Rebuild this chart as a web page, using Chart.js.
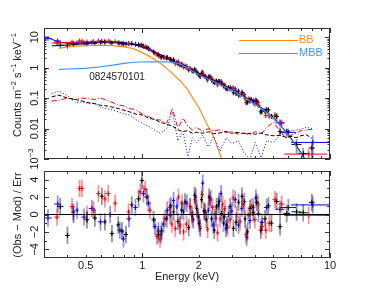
<!DOCTYPE html>
<html lang="en">
<head>
  <meta charset="UTF-8">
  <title>Spectrum 0824570101</title>
  <script src="https://cdn.jsdelivr.net/npm/chart.js"></script>
  <style type="text/css">
    body, html {
      margin: 0;
      padding: 0;
      background-color: #fff;
      overflow: hidden;
    }
    .panel {
      position: absolute;
      left: 0;
      width: 374px;
    }
    #top-panel { top: 0; height: 170px; }
    #res-panel { top: 160px; height: 129px; }
  </style>
</head>
<body>

  <div class="panel" id="top-panel"><canvas id="spec"></canvas></div>
  <div class="panel" id="res-panel"><canvas id="resid"></canvas></div>

  <script>
    // ---- data ----
    // instrument 1 (black): bin centre, half width, counts, error, residual
    const blackE = [0.366,0.40,0.431,0.508,0.56,0.61,0.633,0.69,0.745,0.78,0.82,0.88,0.956,0.996,1.06,1.15,1.22,1.27,1.35,1.42,1.47,1.55,1.62,1.69,1.77,1.84,1.90,1.95,2.01,2.07,2.13,2.20,2.27,2.34,2.42,2.49,2.57,2.65,2.73,2.82,2.94,3.06,3.16,3.26,3.40,3.53,3.64,3.75,3.90,4.07,4.28,4.51,4.70,4.88,5.20,5.42,5.88,6.64,7.20,8.00];
    const blackDE = [0.015,0.012,0.012,0.015,0.015,0.015,0.015,0.018,0.018,0.02,0.02,0.02,0.025,0.025,0.025,0.03,0.025,0.025,0.03,0.03,0.03,0.03,0.03,0.03,0.035,0.035,0.035,0.035,0.04,0.04,0.04,0.04,0.04,0.045,0.045,0.045,0.05,0.05,0.05,0.05,0.06,0.06,0.06,0.06,0.07,0.07,0.07,0.07,0.08,0.1,0.1,0.12,0.12,0.12,0.15,0.15,0.25,0.4,0.4,0.3];
    const blackCts = [5.45,5.1,5.7,6.0,6.3,7.2,6.7,6.45,6.5,6.2,5.95,6.2,5.6,5.5,4.6,3.25,2.55,2.25,2.05,1.87,1.67,1.34,1.23,1.13,0.84,0.82,0.87,0.69,0.56,0.65,0.545,0.46,0.51,0.39,0.32,0.36,0.35,0.287,0.252,0.21,0.216,0.15,0.142,0.17,0.156,0.1,0.074,0.092,0.075,0.078,0.035,0.038,0.041,0.025,0.025,0.008,0.0078,0.003,0.0015,0.0023];
    const blackErr = [0.33,0.31,0.34,0.36,0.38,0.43,0.4,0.39,0.39,0.37,0.36,0.37,0.34,0.33,0.32,0.23,0.18,0.16,0.14,0.13,0.12,0.094,0.086,0.079,0.059,0.057,0.061,0.048,0.05,0.058,0.049,0.041,0.046,0.035,0.029,0.032,0.031,0.026,0.023,0.019,0.019,0.018,0.017,0.02,0.019,0.012,0.009,0.011,0.009,0.014,0.0063,0.0068,0.0074,0.0045,0.0075,0.0024,0.0023,0.0015,0.0008,0.0015];
    const blackRes = [0.9,-2.4,0.0,-0.6,-0.4,2.1,-0.85,-2.2,-1.2,-1.9,-2.3,1.1,1.8,3.9,2.0,-0.6,-2.3,-1.9,-0.5,1.0,0.3,-0.8,0.5,1.45,-1.5,0.0,2.2,0.7,-1.0,1.7,0.4,-0.6,2.0,-0.5,-1.8,0.9,1.5,0.1,-0.3,-1.2,0.9,-1.6,-0.9,1.4,2.1,-0.5,-2.0,0.7,0.2,1.4,-1.8,-0.5,1.0,-1.0,1.5,-1.4,0.1,0.3,0.2,1.4];

    // instrument 2 (red)
    const redE = [0.352,0.423,0.464,0.478,0.508,0.551,0.585,0.633,0.66,0.718,0.846,0.976,1.037,1.10,1.197,1.245,1.32,1.40,1.44,1.50,1.56,1.59,1.63,1.66,1.72,1.80,1.85,1.91,1.97,2.03,2.09,2.16,2.23,2.30,2.37,2.44,2.52,2.60,2.68,2.76,2.85,2.94,3.05,3.19,3.32,3.46,3.57,3.67,3.82,3.98,4.15,4.33,4.55,4.75,5.09,5.53,7.70];
    const redDE = [0.012,0.012,0.012,0.012,0.015,0.015,0.015,0.015,0.018,0.018,0.02,0.025,0.025,0.03,0.025,0.025,0.03,0.03,0.03,0.03,0.03,0.03,0.03,0.03,0.035,0.035,0.035,0.035,0.04,0.04,0.04,0.04,0.04,0.045,0.045,0.045,0.05,0.05,0.05,0.05,0.06,0.06,0.06,0.07,0.07,0.07,0.07,0.07,0.08,0.1,0.1,0.12,0.12,0.12,0.15,0.2,2.0];
    const redCts = [6.45,6.9,7.4,7.45,7.0,7.1,7.5,7.35,7.4,7.1,6.25,5.4,4.9,3.9,2.7,2.35,2.15,1.9,1.66,1.35,1.54,1.25,1.31,1.04,0.97,0.94,0.79,0.79,0.67,0.53,0.68,0.52,0.39,0.48,0.42,0.36,0.27,0.3,0.305,0.27,0.196,0.195,0.22,0.155,0.122,0.13,0.072,0.094,0.089,0.063,0.071,0.036,0.027,0.026,0.027,0.015,0.00145];
    const redErr = [0.39,0.41,0.44,0.45,0.42,0.43,0.45,0.44,0.44,0.43,0.38,0.32,0.34,0.27,0.19,0.16,0.15,0.13,0.12,0.095,0.11,0.088,0.092,0.073,0.068,0.066,0.055,0.055,0.047,0.048,0.061,0.047,0.035,0.043,0.038,0.032,0.024,0.027,0.027,0.024,0.018,0.018,0.026,0.019,0.015,0.016,0.0086,0.011,0.011,0.0076,0.013,0.0065,0.0049,0.0047,0.008,0.0045,0.0007];
    const redRes = [-0.3,0.9,3.0,3.0,0.0,0.5,2.4,1.8,2.4,1.3,0.3,2.6,2.9,0.5,-2.5,-2.8,-0.5,0.8,-1.1,-1.6,2.0,-1.2,1.3,-2.0,-1.1,0.9,-0.4,1.7,0.2,-1.4,2.3,0.3,-1.7,1.6,0.8,0.1,-2.1,-0.5,1.2,0.7,-1.5,-0.6,1.9,0.0,-0.8,1.1,-2.3,-0.1,0.9,-0.6,1.2,-1.4,-1.8,-1.0,1.7,1.2,-0.1];

    // instrument 3 (blue)
    const blueE = [0.315,0.355,0.43,0.45,0.49,0.54,0.60,0.675,0.76,0.795,0.85,0.92,1.016,1.08,1.17,1.22,1.26,1.30,1.36,1.41,1.47,1.53,1.59,1.66,1.73,1.80,1.87,1.93,1.99,2.04,2.10,2.17,2.25,2.32,2.39,2.47,2.55,2.63,2.71,2.79,2.88,3.00,3.13,3.26,3.39,3.50,3.60,3.75,3.90,4.03,4.16,4.35,4.60,5.42,6.00,8.10];
    const blueDE = [0.015,0.015,0.01,0.01,0.015,0.02,0.02,0.02,0.02,0.02,0.025,0.025,0.03,0.03,0.025,0.025,0.025,0.025,0.03,0.03,0.03,0.03,0.03,0.03,0.035,0.035,0.035,0.035,0.04,0.04,0.04,0.04,0.045,0.045,0.045,0.045,0.05,0.05,0.05,0.05,0.06,0.06,0.07,0.07,0.07,0.07,0.07,0.08,0.08,0.1,0.1,0.12,0.15,0.3,0.6,1.9];
    const blueCts = [9.2,7.5,6.25,6.4,6.45,6.85,6.7,6.9,6.35,6.0,6.1,5.85,5.0,4.25,3.0,2.65,2.18,2.2,2.17,1.84,1.83,1.52,1.21,1.12,1.07,0.93,0.76,0.82,0.62,0.51,0.71,0.51,0.47,0.49,0.35,0.336,0.35,0.354,0.25,0.206,0.22,0.2,0.2,0.125,0.135,0.13,0.07,0.078,0.082,0.086,0.058,0.04,0.042,0.0155,0.0075,0.0035];
    const blueErr = [0.55,0.45,0.38,0.38,0.39,0.41,0.4,0.41,0.38,0.36,0.37,0.35,0.35,0.3,0.21,0.19,0.15,0.15,0.15,0.13,0.13,0.11,0.085,0.08,0.075,0.065,0.053,0.057,0.043,0.046,0.064,0.046,0.042,0.044,0.032,0.03,0.032,0.032,0.023,0.019,0.02,0.018,0.024,0.015,0.016,0.016,0.0084,0.0094,0.0098,0.015,0.0104,0.0072,0.0076,0.0047,0.0025,0.0025];
    const blueRes = [-0.4,1.2,0.3,0.5,-0.3,0.7,-0.85,0.0,-1.8,-2.8,-0.5,0.8,2.4,1.3,-1.4,-1.9,-2.3,-1.1,0.5,-0.1,1.6,0.9,-1.3,0.3,1.3,0.9,-0.6,2.0,-0.3,-1.6,3.6,0.2,0.5,1.8,-1.2,-0.4,1.1,2.4,-1.0,-1.6,0.0,0.4,1.7,-1.2,0.7,1.5,-2.6,-0.7,0.8,1.9,0.1,-0.9,0.8,0.6,0.8,1.1];

    // folded total model per instrument
    const modelE = [0.3,0.33,0.36,0.4,0.45,0.5,0.6,0.7,0.8,0.9,1.0,1.1,1.2,1.3,1.5,1.7,2.0,2.3,2.6,3.0,3.5,4.0,4.5,5.0,5.5,6.0,6.5,7.0,7.5,8.0];
    const blackModel = [null,5.2,5.3,5.5,5.8,6.1,6.8,6.9,6.5,5.8,4.8,3.8,3.0,2.35,1.5,1.0,0.62,0.42,0.3,0.19,0.11,0.065,0.04,0.022,0.012,0.0062,0.0032,0.0016,0.0008,0.0004];
    const redModel = [null,6.4,6.5,6.7,6.8,7.0,7.0,6.9,6.5,5.8,4.8,3.8,3.0,2.35,1.5,1.0,0.62,0.42,0.3,0.19,0.11,0.065,0.04,0.022,0.012,0.0062,0.0032,0.0016,0.0008,0.0004];
    const blueModel = [10.5,8.5,7.0,6.2,6.3,6.5,6.9,6.9,6.5,5.8,4.8,3.8,3.0,2.35,1.5,1.0,0.62,0.42,0.3,0.19,0.11,0.065,0.04,0.022,0.012,0.0062,0.0032,0.0016,0.0008,0.0004];

    // model components
    const bbE = [0.36,0.4,0.45,0.5,0.6,0.7,0.8,0.9,1.0,1.1,1.2,1.3,1.4,1.5,1.6,1.75,1.85,2.0,2.2,2.4,2.6,2.8];
    const bbV = [4.3,4.8,5.1,5.3,5.5,5.3,4.8,4.2,3.1,2.3,1.65,1.15,0.78,0.52,0.36,0.19,0.105,0.05,0.015,0.0055,0.0014,0.0004];
    const mbbE = [0.36,0.4,0.5,0.6,0.7,0.8,0.9,1.0,1.1,1.3,1.46,1.6,1.8,2.0,2.3,2.6,3.0,3.5,4.0,4.5,5.0,5.5,6.0,6.5,7.0,7.5];
    const mbbV = [0.88,0.9,0.95,1.07,1.2,1.38,1.5,1.53,1.55,1.55,1.5,1.3,0.85,0.58,0.4,0.28,0.18,0.105,0.062,0.038,0.021,0.0115,0.006,0.003,0.0015,0.0007];

    // backgrounds
    const bgE = [0.33,0.36,0.4,0.44,0.48,0.52,0.56,0.6,0.65,0.7,0.75,0.8,0.86,0.92,1.0,1.08,1.16,1.25,1.35,1.45,1.55,1.65,1.75,1.85,1.95,2.1,2.25,2.4,2.6,2.8,3.0,3.25,3.5,3.75,4.0,4.3,4.6,5.0,5.4,5.8,6.2,6.6,7.0,7.5,8.0];
    const bgBlack = [0.11,0.125,0.1,0.09,0.08,0.07,0.065,0.058,0.055,0.05,0.045,0.04,0.035,0.03,0.028,0.022,0.02,0.016,0.014,0.012,0.009,0.008,0.0085,0.007,0.0075,0.007,0.0078,0.0068,0.0072,0.008,0.007,0.0075,0.0068,0.007,0.0065,0.0072,0.0062,0.0058,0.006,0.0052,0.0055,0.005,0.0058,0.0062,0.0048];
    const bgRed = [0.08,0.085,0.1,0.09,0.1,0.095,0.09,0.1,0.085,0.07,0.06,0.055,0.045,0.042,0.03,0.025,0.02,0.019,0.015,0.045,0.01,0.022,0.012,0.009,0.011,0.008,0.01,0.0085,0.009,0.0075,0.008,0.0065,0.0072,0.006,0.008,0.0065,0.011,0.016,0.0085,0.005,0.006,0.007,0.0085,0.009,0.0095];
    const bgBlue = [0.14,0.17,0.12,0.07,0.075,0.065,0.07,0.05,0.045,0.04,0.035,0.03,0.028,0.02,0.015,0.012,0.009,0.007,0.01,0.035,0.004,0.008,0.0012,0.005,0.0035,0.006,0.0025,0.0055,0.0018,0.005,0.0032,0.004,0.0015,0.001,0.0035,0.0011,0.004,0.0035,0.006,0.007,0.0085,0.009,0.0095,0.011,0.01];

    // axis ticks
    const energyTicks = [0.5, 1, 2, 5, 10];
    const energyLabels = ['0.5', '1', '2', '5', '10'];
    const countTicks = [0.001, 0.01, 0.1, 1, 10];
    const residTicks = [-4, -2, 0, 2, 4];

    const FONT = '"Liberation Sans", Arial, sans-serif';

    // ---- helpers ----
    function line(xs, ys) {
      const out = [];
      xs.forEach((x, i) => { if (ys[i] !== null) out.push({ x: x, y: ys[i] }); });
      return out;
    }
    function points(xs, ys, xe, ye) {
      return xs.map((x, i) => ({ x: x, y: ys[i], xe: xe[i], ye: Array.isArray(ye) ? ye[i] : ye }));
    }

    // draws the crosses (bins and errors) for datasets that carry them
    const errorBars = {
      id: 'errorBars',
      afterDatasetDraw(chart, args) {
        const ds = chart.data.datasets[args.index];
        if (!ds.errorBars) return;
        const { ctx, chartArea: a, scales: { x, y } } = chart;
        const isLog = y.type === 'logarithmic';
        ctx.save();
        ctx.beginPath();
        ctx.rect(a.left, a.top, a.right - a.left, a.bottom - a.top);
        ctx.clip();
        ds.data.forEach(p => {
          const px = x.getPixelForValue(p.x);
          const py = y.getPixelForValue(p.y);
          const lo = p.y - p.ye;
          const y0 = (isLog && lo <= 0) ? a.bottom + 2 : y.getPixelForValue(lo);
          const y1 = y.getPixelForValue(p.y + p.ye);
          // vertical bar, lighter
          ctx.strokeStyle = ds.barColor;
          ctx.lineWidth = 1.8;
          ctx.beginPath();
          ctx.moveTo(px, y0);
          ctx.lineTo(px, y1);
          ctx.stroke();
          // bin width and centre
          ctx.strokeStyle = ds.borderColor;
          ctx.lineWidth = 1;
          ctx.beginPath();
          ctx.moveTo(x.getPixelForValue(p.x - p.xe), py);
          ctx.lineTo(x.getPixelForValue(p.x + p.xe), py);
          ctx.moveTo(px, py - 2.5);
          ctx.lineTo(px, py + 2.5);
          ctx.stroke();
        });
        ctx.restore();
      }
    };

    function drawFrame(chart, xTicks, yTicks) {
      const { ctx, chartArea: a, scales } = chart;
      ctx.save();
      ctx.strokeStyle = '#333';
      ctx.lineWidth = 1;
      ctx.strokeRect(Math.round(a.left) + 0.5, Math.round(a.top) + 0.5,
        Math.round(a.right - a.left) - 1, Math.round(a.bottom - a.top) - 1);
      ctx.beginPath();
      xTicks.forEach(([v, len]) => {
        const px = Math.round(scales.x.getPixelForValue(v)) + 0.5;
        ctx.moveTo(px, a.bottom); ctx.lineTo(px, a.bottom - len);
        ctx.moveTo(px, a.top); ctx.lineTo(px, a.top + len);
      });
      yTicks.forEach(([v, len]) => {
        const py = Math.round(scales.y.getPixelForValue(v)) + 0.5;
        ctx.moveTo(a.left, py); ctx.lineTo(a.left + len, py);
        ctx.moveTo(a.right, py); ctx.lineTo(a.right - len, py);
      });
      ctx.stroke();
      ctx.restore();
    }

    // rotated text made of [text, isSuperscript] parts, centred on (cx, cy)
    function vText(ctx, parts, cx, cy, size) {
      ctx.save();
      ctx.translate(cx, cy);
      ctx.rotate(-Math.PI / 2);
      ctx.fillStyle = '#222';
      ctx.textBaseline = 'middle';
      ctx.textAlign = 'left';
      let total = 0;
      const widths = parts.map(([t, sup]) => {
        ctx.font = (sup ? size * 0.7 : size) + 'px ' + FONT;
        const w = ctx.measureText(t).width;
        total += w;
        return w;
      });
      let x = -total / 2;
      parts.forEach(([t, sup], i) => {
        ctx.font = (sup ? size * 0.7 : size) + 'px ' + FONT;
        ctx.fillText(t, x, sup ? -size * 0.38 : 0);
        x += widths[i];
      });
      ctx.restore();
    }

    // tick positions on the energy axis
    const xTickList = [];
    [0.3,0.4,0.5,0.6,0.7,0.8,0.9,1,2,3,4,5,6,7,8,9,10].forEach(v => {
      xTickList.push([v, (v === 1 || v === 10) ? 5 : 3]);
    });
    const yLogTicks = [];
    countTicks.forEach(d => {
      yLogTicks.push([d, 5]);
      for (let k = 2; k <= 9; k++) if (d * k <= 20) yLogTicks.push([d * k, 2.5]);
    });
    const yResTicks = [];
    for (let v = -4; v <= 4; v++) yResTicks.push([v, v % 2 === 0 ? 5 : 3]);

    const common = {
      responsive: true,
      maintainAspectRatio: false,
      animation: false,
      events: [],
      plugins: { legend: { display: false }, tooltip: { enabled: false } }
    };

    function lineSet(data, color, width, dash) {
      return {
        data: data, borderColor: color, borderWidth: width, borderDash: dash || [],
        showLine: true, pointRadius: 0, fill: false, tension: 0
      };
    }
    function dataSet(data, color, barColor) {
      return {
        data: data, borderColor: color, barColor: barColor, errorBars: true,
        showLine: false, pointRadius: 0
      };
    }

    const COL = { black: '#000000', red: '#ff0000', blue: '#0000ff', bb: '#ff8c1a', mbb: '#3399ff' };
    const BAR = { black: 'rgba(0,0,0,0.42)', red: 'rgba(255,0,0,0.42)', blue: 'rgba(0,0,255,0.42)' };

    // ---- top panel: unfolded counts ----
    const specLabels = {
      id: 'specLabels',
      afterDraw(chart) {
        const { ctx, scales: { y } } = chart;
        drawFrame(chart, xTickList, yLogTicks);
        vText(ctx, [['Counts m', false], ['\u22122', true], [' s', false], ['\u22121', true], [' keV', false], ['\u22121', true]], 18, 85, 11);
        const tickText = { 10: [['10', false]], 1: [['1', false]], 0.1: [['0.1', false]], 0.01: [['0.01', false]], 0.001: [['10', false], ['\u22123', true]] };
        countTicks.forEach(v => vText(ctx, tickText[v], 35, y.getPixelForValue(v), 11));

        ctx.save();
        ctx.font = '10px ' + FONT;
        ctx.textBaseline = 'middle';
        ctx.fillStyle = '#222';
        ctx.textAlign = 'center';
        ctx.fillText('0824570101', 117, 77);
        // legend
        ctx.font = '11px ' + FONT;
        ctx.lineWidth = 1.2;
        ctx.strokeStyle = COL.bb;
        ctx.beginPath(); ctx.moveTo(239, 40.5); ctx.lineTo(298, 40.5); ctx.stroke();
        ctx.strokeStyle = COL.mbb;
        ctx.beginPath(); ctx.moveTo(239, 53.5); ctx.lineTo(298, 53.5); ctx.stroke();
        ctx.textAlign = 'left';
        ctx.fillStyle = COL.bb;
        ctx.fillText('BB', 299, 40);
        ctx.fillStyle = COL.mbb;
        ctx.fillText('MBB', 299, 53);
        ctx.restore();
      }
    };

    new Chart(document.getElementById('spec'), {
      type: 'scatter',
      data: {
        datasets: [
          lineSet(line(bgE, bgBlack), COL.black, 1, [4, 2]),
          lineSet(line(bgE, bgRed), COL.red, 1, [5, 2, 1, 2]),
          lineSet(line(bgE, bgBlue), COL.blue, 1, [1, 2]),
          lineSet(line(bbE, bbV), COL.bb, 1.2),
          lineSet(line(mbbE, mbbV), COL.mbb, 1.2),
          dataSet(points(blackE, blackCts, blackDE, blackErr), COL.black, BAR.black),
          dataSet(points(redE, redCts, redDE, redErr), COL.red, BAR.red),
          dataSet(points(blueE, blueCts, blueDE, blueErr), COL.blue, BAR.blue),
          lineSet(line(modelE, blackModel), COL.black, 1),
          lineSet(line(modelE, redModel), COL.red, 1),
          lineSet(line(modelE, blueModel), COL.blue, 1)
        ]
      },
      options: Object.assign({}, common, {
        layout: { padding: { left: 44, right: 44, top: 28, bottom: 11 } },
        scales: {
          x: { type: 'logarithmic', min: 0.3, max: 10, display: false },
          y: { type: 'logarithmic', min: 0.001, max: 20, display: false }
        }
      }),
      plugins: [errorBars, specLabels]
    });

    // ---- bottom panel: residuals ----
    const residLabels = {
      id: 'residLabels',
      afterDraw(chart) {
        const { ctx, chartArea: a, scales: { x, y } } = chart;
        drawFrame(chart, xTickList, yResTicks);
        vText(ctx, [['(Obs \u2212 Mod) / Err', false]], 18, 55, 11);
        residTicks.forEach(v => vText(ctx, [[v < 0 ? '\u2212' + (-v) : String(v), false]], 35, y.getPixelForValue(v), 11));
        ctx.save();
        ctx.font = '11px ' + FONT;
        ctx.fillStyle = '#222';
        ctx.textAlign = 'center';
        ctx.textBaseline = 'middle';
        energyTicks.forEach((v, i) => ctx.fillText(energyLabels[i], x.getPixelForValue(v), a.bottom + 8));
        ctx.fillText('Energy (keV)', 187, a.bottom + 19);
        ctx.restore();
      }
    };

    new Chart(document.getElementById('resid'), {
      type: 'scatter',
      data: {
        datasets: [
          lineSet([{ x: 0.3, y: 0 }, { x: 10, y: 0 }], COL.black, 1),
          dataSet(points(blackE, blackRes, blackDE, 1), COL.black, BAR.black),
          dataSet(points(redE, redRes, redDE, 1), COL.red, BAR.red),
          dataSet(points(blueE, blueRes, blueDE, 1), COL.blue, BAR.blue)
        ]
      },
      options: Object.assign({}, common, {
        layout: { padding: { left: 44, right: 44, top: 11, bottom: 31 } },
        scales: {
          x: { type: 'logarithmic', min: 0.3, max: 10, display: false },
          y: { type: 'linear', min: -5, max: 5, display: false }
        }
      }),
      plugins: [errorBars, residLabels]
    });
  </script>
</body>
</html>
